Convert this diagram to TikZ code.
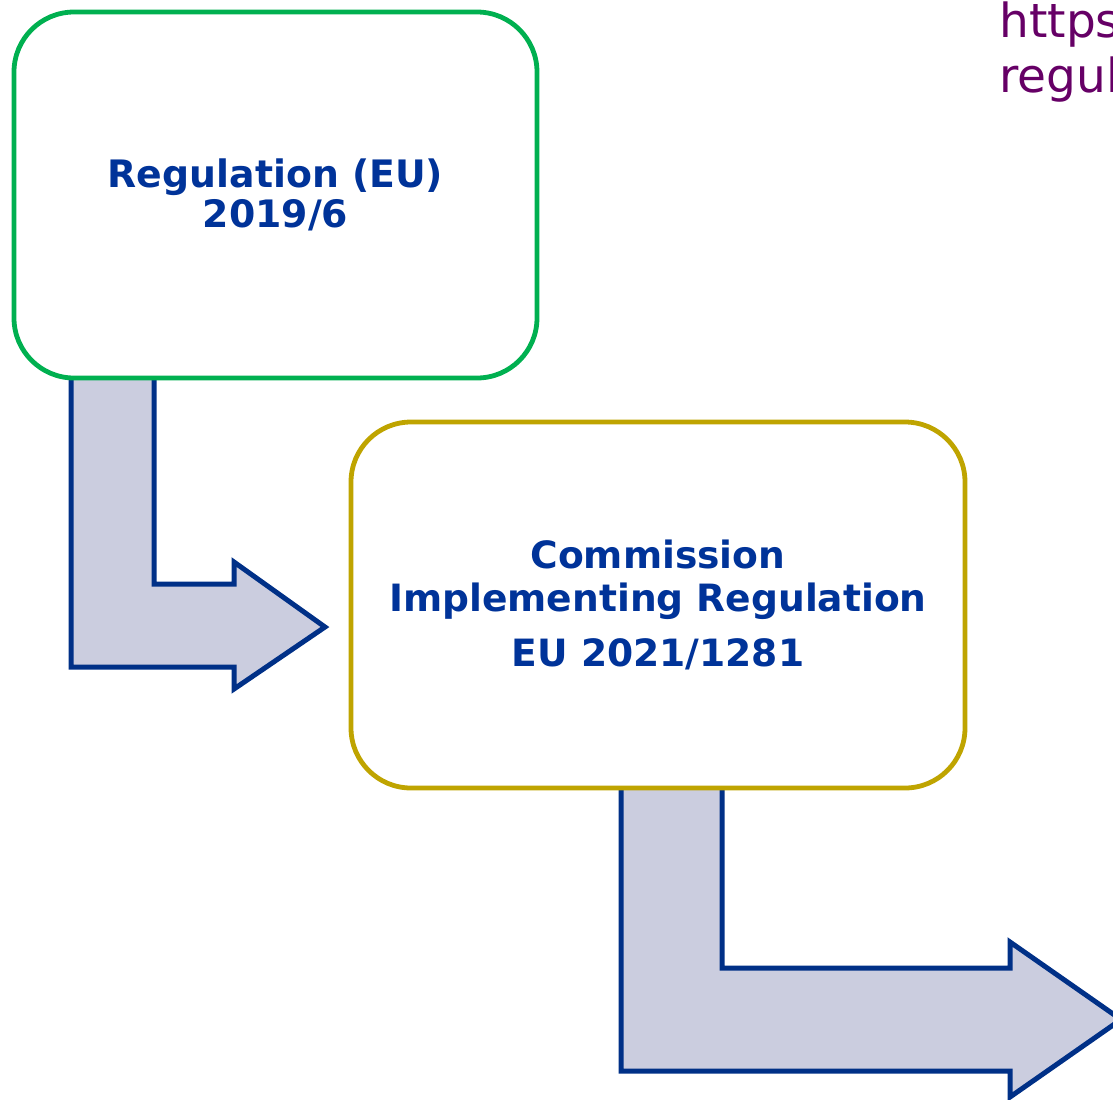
\documentclass[tikz,border=0pt]{standalone}
\usepackage{fontspec}
\setmainfont{DejaVu Sans}
\definecolor{boxgreen}{RGB}{0,176,80}
\definecolor{boxgold}{RGB}{191,164,0}
\definecolor{txtblue}{RGB}{0,51,153}
\definecolor{arrline}{RGB}{0,48,135}
\definecolor{arrfill}{RGB}{203,205,223}
\definecolor{urlpurple}{RGB}{102,0,102}
\begin{document}
\begin{tikzpicture}[x=0.5pt,y=-0.5pt,
  regbox/.style={draw,line width=2.4pt,fill=white,rounded corners=30pt,
    inner sep=0pt,align=center,text=txtblue},
  blockarrow/.style={draw=arrline,fill=arrfill,line width=2.5pt,line join=miter},
  urltext/.style={anchor=base west,inner sep=0pt,text=urlpurple,
    font=\fontsize{23.5pt}{27.5pt}\selectfont}]
\useasboundingbox (0,0) rectangle (1113,1099);
% block arrows (behind boxes)
\draw[blockarrow] (71,374) -- (71,667) -- (234,667) -- (234,689) -- (325,627)
  -- (234,562) -- (234,584) -- (154,584) -- (154,374);
\draw[blockarrow] (621,784) -- (621,1071) -- (1010,1071) -- (1010,1097) -- (1121,1019.5)
  -- (1010,942) -- (1010,968) -- (722,968) -- (722,784);
% boxes
\node[regbox,draw=boxgreen,minimum width=261.5pt,minimum height=183pt,
  font=\fontsize{18.9pt}{20pt}\selectfont\bfseries]
  (reg) at (275.5,195) {Regulation (EU)\\2019/6};
\node[regbox,draw=boxgold,minimum width=307pt,minimum height=183pt,
  font=\fontsize{18.8pt}{21.5pt}\selectfont\bfseries]
  (impl) at (658,605) {Commission\\Implementing Regulation\\[6pt]EU 2021/1281};
% clipped URL text
\node[urltext] (url1) at (999,37) {https};
\node[urltext] (url2) at (999,92) {regul};
\end{tikzpicture}
\end{document}
